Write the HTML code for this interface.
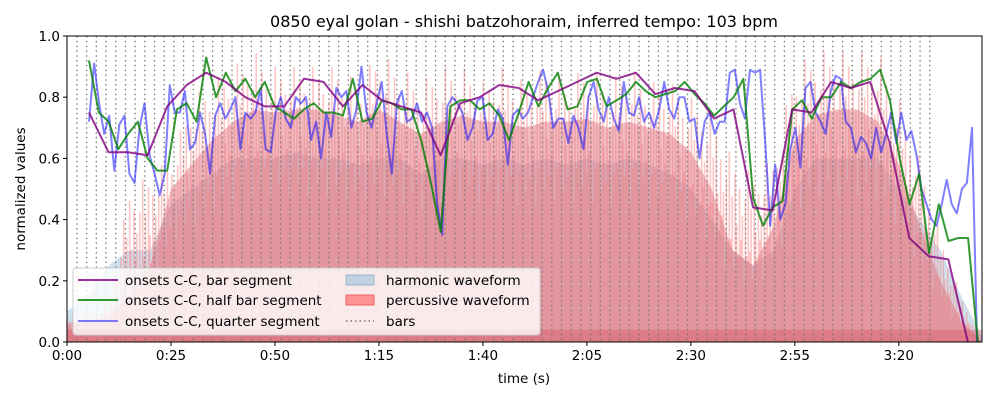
<!DOCTYPE html>
<html><head><meta charset="utf-8"><style>
body{margin:0;background:#fff;}
svg text{font-family:"DejaVu Sans","Liberation Sans",sans-serif;fill:#000;}
</style></head><body>
<svg id="chart" width="1000" height="400" xmlns="http://www.w3.org/2000/svg">
<text x="524" y="27" font-size="16" text-anchor="middle">0850 eyal golan - shishi batzohoraim, inferred tempo: 103 bpm</text>
<g id="plot"></g>
<rect x="67" y="36" width="915" height="306" fill="none" stroke="#000" stroke-width="1"/>
<g id="axes"></g>
<text x="524" y="383" font-size="13.5" text-anchor="middle">time (s)</text>
<text x="25" y="189" font-size="13.5" text-anchor="middle" transform="rotate(-90 25 189)">normalized values</text>
<g>
<rect x="73" y="268" width="467" height="67" rx="3" fill="#fff" fill-opacity="0.8" stroke="#ccc"/>
<line x1="78" y1="280" x2="118" y2="280" stroke="#800080" stroke-opacity="0.8" stroke-width="2"/>
<text x="125" y="285" font-size="13.5">onsets C-C, bar segment</text>
<line x1="78" y1="300" x2="118" y2="300" stroke="#008000" stroke-opacity="0.8" stroke-width="2"/>
<text x="125" y="305" font-size="13.5">onsets C-C, half bar segment</text>
<line x1="78" y1="321" x2="118" y2="321" stroke="#0000ff" stroke-opacity="0.5" stroke-width="2"/>
<text x="125" y="326" font-size="13.5">onsets C-C, quarter segment</text>
<rect x="346" y="275" width="28" height="10" fill="#a9c4dc" fill-opacity="0.7" stroke="#9db5cc"/>
<text x="386" y="285" font-size="13.5">harmonic waveform</text>
<rect x="346" y="295" width="28" height="10" fill="#ff8080" fill-opacity="0.8" stroke="#f06060"/>
<text x="386" y="305" font-size="13.5">percussive waveform</text>
<line x1="346" y1="321" x2="374" y2="321" stroke="#777" stroke-width="1.5" stroke-dasharray="1.5,3"/>
<text x="386" y="326" font-size="13.5">bars</text>
</g>
</svg>
<script>
const xTickSec=[0,25,50,75,100,125,150,175,200];
const xTickLabels=["0:00","0:25","0:50","1:15","1:40","2:05","2:30","2:55","3:20"];
const yTickVals=[0,0.2,0.4,0.6,0.8,1.0];
const yTickLabels=["0.0","0.2","0.4","0.6","0.8","1.0"];
const barStart=2.4, barPeriod=2.33, barCount=89;
const envTimes=[0,5,10,15,20,25,30,35,40,45,50,55,60,65,70,75,80,85,90,95,100,105,110,115,120,125,130,135,140,145,150,155,160,165,170,175,180,185,190,195,200,205,210,215,220];
const percPeak=[.08,.1,.12,.5,.55,.6,.8,.85,.9,.95,.9,.9,.9,.9,.85,.95,.9,.85,.9,.9,.85,.9,.85,.9,.85,.9,.85,.9,.85,.85,.8,.75,.6,.55,.6,.9,.95,.95,.95,.95,.8,.6,.35,.15,0];
const percBody=[.06,.07,.08,.15,.25,.5,.58,.66,.72,.76,.75,.76,.76,.74,.72,.76,.72,.68,.72,.74,.72,.72,.7,.72,.72,.73,.7,.72,.7,.68,.62,.5,.3,.25,.38,.66,.74,.76,.76,.72,.58,.38,.2,.07,0];
const harmBody=[.1,.15,.25,.3,.3,.45,.5,.55,.6,.6,.6,.62,.6,.6,.58,.6,.6,.55,.6,.6,.58,.6,.58,.6,.58,.6,.58,.6,.58,.55,.5,.4,.3,.25,.3,.5,.6,.6,.6,.6,.5,.4,.3,.15,.02];
const barT0=5.3, barT1=216.6;
const barSeg=[.75,.62,.62,.61,.77,.84,.88,.85,.80,.77,.77,.86,.85,.77,.84,.79,.77,.75,.61,.78,.80,.84,.83,.79,.82,.85,.88,.86,.88,.81,.83,.82,.73,.76,.44,.43,.76,.75,.85,.83,.85,.65,.34,.28,.27,0];
const halfT0=5.3, halfT1=219.0;
const halfSeg=[.92,.75,.72,.63,.68,.72,.60,.56,.56,.76,.78,.72,.93,.80,.88,.82,.86,.80,.85,.77,.75,.73,.76,.78,.75,.75,.74,.86,.72,.73,.79,.78,.76,.76,.66,.52,.36,.77,.79,.79,.76,.78,.74,.66,.75,.85,.77,.83,.88,.76,.77,.85,.86,.77,.79,.81,.85,.82,.80,.81,.82,.85,.81,.78,.74,.77,.80,.86,.47,.38,.44,.46,.76,.79,.73,.80,.80,.85,.83,.85,.86,.89,.79,.60,.45,.55,.29,.45,.33,.34,.34,0];
const quarT0=5.3, quarT1=218.8;
const quarSeg=[.72,.91,.78,.68,.74,.56,.71,.74,.55,.52,.70,.78,.61,.55,.48,.55,.84,.75,.75,.82,.63,.65,.75,.68,.55,.74,.78,.73,.76,.80,.63,.75,.73,.75,.83,.63,.62,.75,.80,.73,.70,.80,.78,.80,.66,.72,.60,.75,.67,.83,.80,.82,.70,.76,.90,.75,.70,.78,.85,.68,.55,.78,.82,.72,.73,.78,.72,.75,.70,.45,.35,.77,.80,.78,.75,.66,.70,.79,.80,.66,.68,.76,.73,.58,.74,.76,.73,.75,.80,.85,.89,.82,.70,.73,.73,.65,.74,.70,.63,.80,.85,.76,.72,.80,.73,.69,.85,.75,.74,.80,.72,.75,.70,.76,.85,.76,.73,.80,.80,.72,.73,.60,.72,.75,.68,.72,.72,.88,.89,.78,.73,.89,.88,.89,.66,.38,.58,.40,.45,.63,.70,.57,.83,.85,.75,.72,.68,.82,.87,.86,.72,.70,.62,.67,.65,.60,.70,.62,.68,.75,.65,.75,.66,.69,.61,.50,.45,.40,.38,.45,.53,.45,.42,.50,.52,.70,0];
const spikePattern=[1,.35,.7,.15,.9,.5,.25,.8,.4,.6,.05,.75,.3];

const X0=67,X1=982,Y0=342,Y1=36,TMAX=220;
const sx=t=>X0+(t/TMAX)*(X1-X0);
const sy=v=>Y0-v*(Y0-Y1);
const NS="http://www.w3.org/2000/svg";
const plot=document.getElementById('plot');
const axes=document.getElementById('axes');
function mk(tag,attrs,parent){const e=document.createElementNS(NS,tag);for(const k in attrs)e.setAttribute(k,attrs[k]);parent.appendChild(e);return e;}
function interp(ts,vs,t){if(t<=ts[0])return vs[0];for(let i=1;i<ts.length;i++){if(t<=ts[i]){const f=(t-ts[i-1])/(ts[i]-ts[i-1]);return vs[i-1]+f*(vs[i]-vs[i-1]);}}return vs[vs.length-1];}
function area(vals,fill,op,name){
  let d=`M${sx(envTimes[0])},${Y0}`;
  envTimes.forEach((t,i)=>{d+=` L${sx(t)},${sy(vals[i])}`;});
  d+=` L${sx(envTimes[envTimes.length-1])},${Y0} Z`;
  const p=mk('path',{d:d,fill:fill,'fill-opacity':op},plot);
  
  
}
area(harmBody,'#a9c4dc',0.55,'harmonic-waveform');
const spikes=mk('g',{},plot);


let k=0;
for(let t=0;t<=TMAX;t+=0.35,k++){
  const lo=interp(envTimes,percBody,t),hi=interp(envTimes,percPeak,t);
  const v=lo*0.6+(hi-lo*0.6)*spikePattern[k%spikePattern.length];
  mk('line',{x1:sx(t),x2:sx(t),y1:Y0,y2:sy(v),stroke:'#ff8080','stroke-opacity':0.45,'stroke-width':1.6},spikes);
}
area(percBody,'#e07a85',0.5,'percussive-waveform');
mk('rect',{x:X0,y:sy(0.04),width:X1-X0,height:sy(0)-sy(0.04),fill:'#d04050','fill-opacity':0.3},plot);
const bars=mk('g',{},plot);


for(let i=0;i<barCount;i++){
  const t=barStart+i*barPeriod;
  mk('line',{x1:sx(t),x2:sx(t),y1:Y1,y2:Y0,stroke:'#777','stroke-width':1.3,'stroke-dasharray':'1.5,3.3'},bars);
}
function line(vals,t0,t1,color,op,name){
  const n=vals.length;
  const pts=vals.map((v,i)=>`${sx(t0+(t1-t0)*i/(n-1)).toFixed(1)},${sy(v).toFixed(1)}`).join(' ');
  const p=mk('polyline',{points:pts,fill:'none',stroke:color,'stroke-opacity':op,'stroke-width':2,'stroke-linejoin':'round'},plot);
  
  
}
line(quarSeg,quarT0,quarT1,'#0000ff',0.5,'quarter-segment-line');
line(halfSeg,halfT0,halfT1,'#008000',0.8,'half-bar-segment-line');
line(barSeg,barT0,barT1,'#800080',0.8,'bar-segment-line');
xTickSec.forEach((s,i)=>{
  const x=sx(s);
  mk('line',{x1:x,x2:x,y1:Y0,y2:Y0+4,stroke:'#000'},axes);
  const t=mk('text',{x:x,y:Y0+18,'font-size':13.5,'text-anchor':'middle'},axes);
  t.textContent=xTickLabels[i];
  
  
});
yTickVals.forEach((v,i)=>{
  const y=sy(v);
  mk('line',{x1:X0-4,x2:X0,y1:y,y2:y,stroke:'#000'},axes);
  const t=mk('text',{x:X0-7,y:y+5,'font-size':13.5,'text-anchor':'end'},axes);
  t.textContent=yTickLabels[i];
  
  
});
</script>
</body></html>
